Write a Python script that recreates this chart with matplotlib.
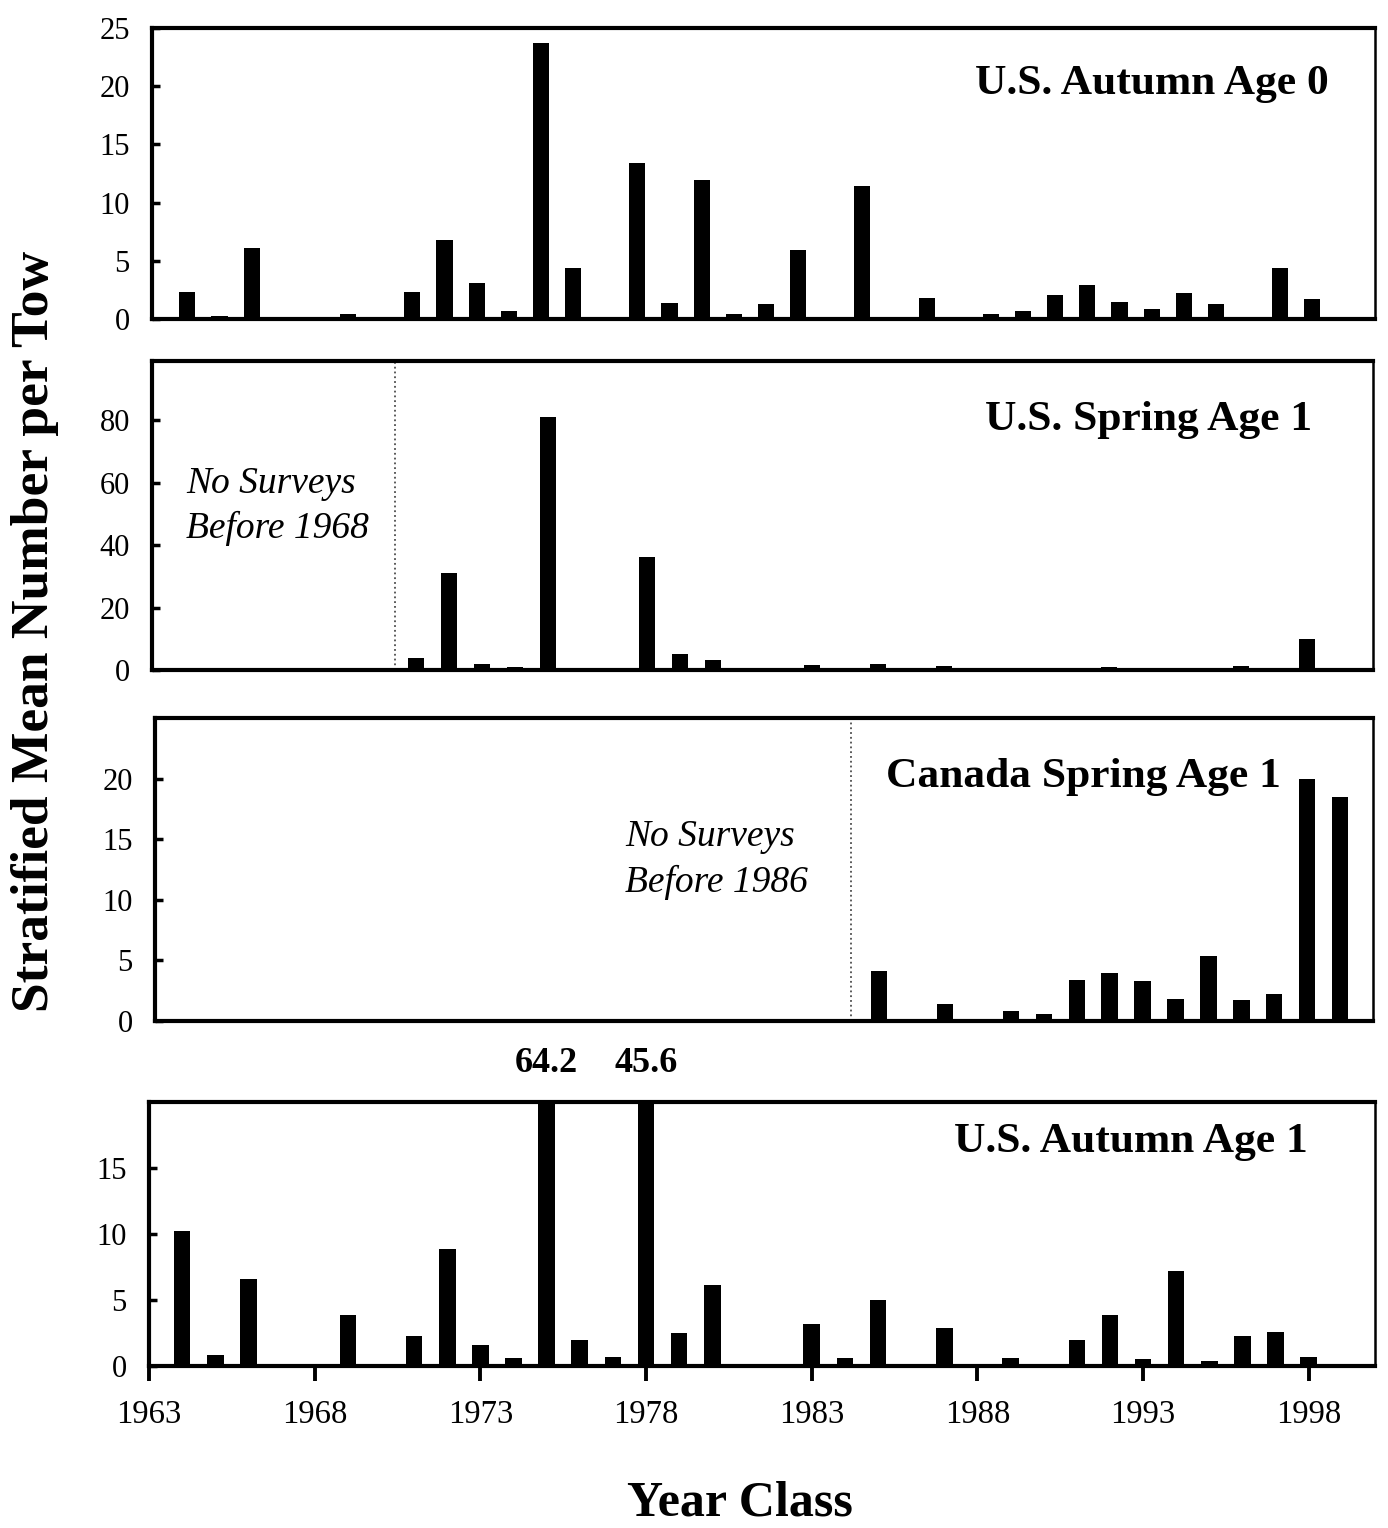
import matplotlib
matplotlib.use("Agg")
import matplotlib.pyplot as plt
from matplotlib.transforms import blended_transform_factory

# year classes shown in each panel
years_autumn0 = list(range(1964, 2000))
autumn_age0 = [2.3, 0.3, 6.1, 0.0, 0.1, 0.4, 0.0, 2.3, 6.8, 3.1, 0.7, 23.7,
               4.4, 0.1, 13.4, 1.4, 11.9, 0.4, 1.3, 5.9, 0.0, 11.4, 0.0, 1.8,
               0.0, 0.4, 0.7, 2.1, 2.9, 1.5, 0.9, 2.2, 1.3, 0.2, 4.4, 1.7]

years_spring1 = list(range(1967, 1999))
spring_age1 = [0.3, 0.2, 0.4, 0.2, 3.8, 31.0, 1.9, 0.9, 81.0, 0.5, 0.2, 36.3,
               5.1, 3.1, 0.5, 0.4, 1.7, 0.4, 1.8, 0.3, 1.3, 0.2, 0.5, 0.5,
               0.7, 0.9, 0.4, 0.5, 0.8, 1.3, 0.5, 10.0]

years_canada = list(range(1985, 2000))
canada_age1 = [4.1, 0.0, 1.4, 0.0, 0.8, 0.6, 3.4, 4.0, 3.3, 1.8, 5.4, 1.7,
               2.2, 20.0, 18.5]

years_autumn1 = list(range(1964, 1999))
autumn_age1 = [10.2, 0.8, 6.6, 0.0, 0.0, 3.9, 0.0, 2.3, 8.9, 1.6, 0.6, 64.2,
               2.0, 0.7, 45.6, 2.5, 6.1, 0.0, 0.05, 3.2, 0.6, 5.0, 0.0, 2.9,
               0.0, 0.6, 0.05, 2.0, 3.9, 0.5, 7.2, 0.4, 2.3, 2.6, 0.7]

x_ticks = [1963, 1968, 1973, 1978, 1983, 1988, 1993, 1998]

serif = ["Liberation Serif", "DejaVu Serif"]
plt.rcParams["font.family"] = serif

W, H = 1388, 1528
fig = plt.figure(figsize=(W / 100, H / 100), dpi=100)


def add_ax(left, right, top, bottom):
    return fig.add_axes([left / W, 1 - bottom / H, (right - left) / W, (bottom - top) / H])


def style(ax, yticks, xlim, show_x=False):
    ax.set_xlim(*xlim)
    ax.set_yticks(yticks)
    for s in ["left", "bottom", "top"]:
        ax.spines[s].set_linewidth(3.0)
    ax.spines["right"].set_linewidth(1.8)
    ax.tick_params(axis="y", direction="in", length=6, width=2.5,
                   labelsize=22, pad=16)
    if show_x:
        ax.set_xticks(x_ticks)
        ax.tick_params(axis="x", direction="out", length=11, width=2.8,
                       labelsize=23.5, pad=13)
    else:
        ax.set_xticks([])


bw = 0.5
title_size = 31.3
note_size = 27

# U.S. Autumn Age 0
ax1 = add_ax(152, 1375, 28, 319)
ax1.bar(years_autumn0, autumn_age0, width=bw, color="black")
ax1.set_ylim(0, 25)
style(ax1, [0, 5, 10, 15, 20, 25], (1962.9, 2000.95))
ax1.text(0.962, 0.808, "U.S. Autumn Age 0", transform=ax1.transAxes,
         ha="right", va="center", fontsize=title_size, fontweight="bold")

# U.S. Spring Age 1
ax2 = add_ax(152, 1373, 361, 670)
ax2.bar(years_spring1, spring_age1, width=bw, color="black")
ax2.set_ylim(0, 99)
style(ax2, [0, 20, 40, 60, 80], (1963, 2000))
ax2.axvline(1970.35, color="0.3", linestyle=":", linewidth=1.3)
ax2.text(0.950, 0.809, "U.S. Spring Age 1", transform=ax2.transAxes,
         ha="right", va="center", fontsize=title_size, fontweight="bold")
ax2.text(0.028, 0.53, "No Surveys\nBefore 1968", transform=ax2.transAxes,
         ha="left", va="center", fontsize=note_size, style="italic",
         linespacing=1.38)

# Canada Spring Age 1
ax3 = add_ax(155, 1373, 718, 1021)
ax3.bar(years_canada, canada_age1, width=bw, color="black")
ax3.set_ylim(0, 25)
style(ax3, [0, 5, 10, 15, 20], (1963, 2000))
ax3.axvline(1984.15, color="0.3", linestyle=":", linewidth=1.3)
ax3.text(0.924, 0.806, "Canada Spring Age 1", transform=ax3.transAxes,
         ha="right", va="center", fontsize=title_size, fontweight="bold")
ax3.text(0.386, 0.532, "No Surveys\nBefore 1986", transform=ax3.transAxes,
         ha="left", va="center", fontsize=note_size, style="italic",
         linespacing=1.38)

# U.S. Autumn Age 1
ax4 = add_ax(149, 1375, 1102, 1366)
ax4.bar(years_autumn1, autumn_age1, width=bw, color="black")
ax4.set_ylim(0, 20)
style(ax4, [0, 5, 10, 15], (1963, 2000), show_x=True)
ax4.text(0.945, 0.85, "U.S. Autumn Age 1", transform=ax4.transAxes,
         ha="right", va="center", fontsize=title_size, fontweight="bold")

# labels for bars running off the top
trans = blended_transform_factory(ax4.transData, ax4.transAxes)
for yr, val in zip(years_autumn1, autumn_age1):
    if val > 20:
        ax4.text(yr, 1.147, f"{val:.1f}", transform=trans, ha="center",
                 va="center", fontsize=26, fontweight="bold")

fig.text(35 / W, 1 - 631 / H, "Stratified Mean Number per Tow", rotation=90,
         ha="center", va="center", fontsize=38.5, fontweight="bold")
fig.text(740 / W, 1 - 1503 / H, "Year Class", ha="center", va="center",
         fontsize=36, fontweight="bold")

fig.savefig("out.png", dpi=100, facecolor="white")
